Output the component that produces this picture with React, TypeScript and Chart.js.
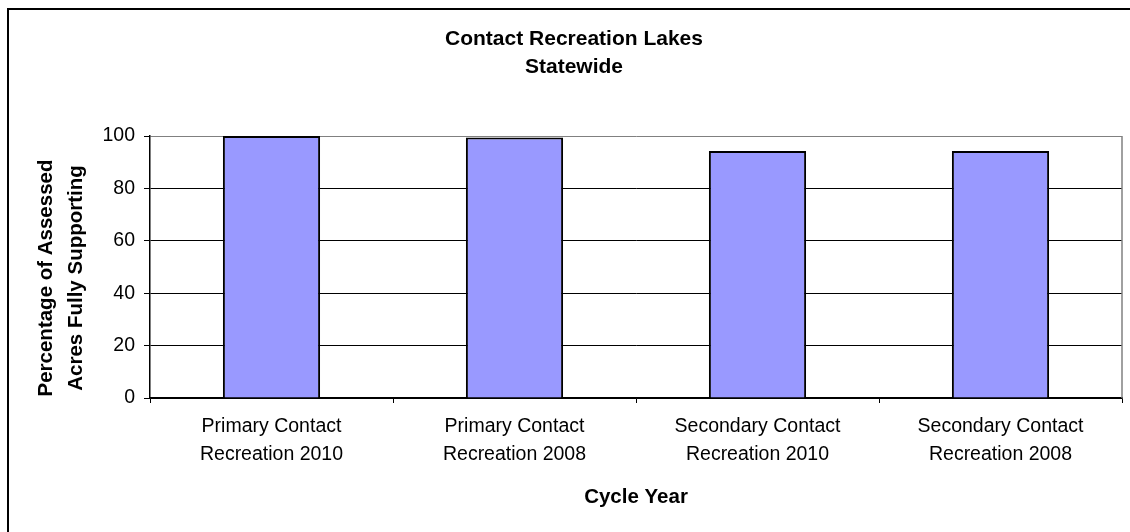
import React, { useEffect, useRef } from "react";
import { Chart, registerables } from "chart.js";

Chart.register(...registerables);

const titleLines = ["Contact Recreation Lakes", "Statewide"];
const categories = [
  ["Primary Contact", "Recreation 2010"],
  ["Primary Contact", "Recreation 2008"],
  ["Secondary Contact", "Recreation 2010"],
  ["Secondary Contact", "Recreation 2008"],
];
const percentSupporting = [100, 99.4, 94.3, 94.3];
const yMin = 0;
const yMax = 100;
const yStep = 20;
const xTitle = "Cycle Year";
const yTitleLines = ["Percentage of Assessed", "Acres Fully Supporting"];

const FONT = "Arial, 'Liberation Sans', Helvetica, sans-serif";

const framePlugin = {
  id: "frame",
  beforeDraw(chart: any) {
    const ctx = chart.ctx;
    ctx.save();
    ctx.fillStyle = "#ffffff";
    ctx.fillRect(0, 0, chart.width, chart.height);
    ctx.strokeStyle = "#000000";
    ctx.lineWidth = 2;
    ctx.beginPath();
    ctx.moveTo(8, chart.height);
    ctx.lineTo(8, 9);
    ctx.lineTo(chart.width, 9);
    ctx.stroke();
    ctx.restore();
  },
  afterDatasetsDraw(chart: any) {
    const { ctx, chartArea } = chart;
    ctx.save();
    ctx.strokeStyle = "#808080";
    ctx.lineWidth = 1.5;
    ctx.beginPath();
    ctx.moveTo(chartArea.right, chartArea.top);
    ctx.lineTo(chartArea.right, chartArea.bottom);
    ctx.stroke();
    ctx.restore();
  },
  afterDraw(chart: any) {
    const { ctx } = chart;
    ctx.save();
    ctx.translate(46.7, 278);
    ctx.rotate(-Math.PI / 2);
    ctx.fillStyle = "#000000";
    ctx.font = `bold 20.5px ${FONT}`;
    ctx.textAlign = "center";
    ctx.textBaseline = "middle";
    yTitleLines.forEach((line, i) => ctx.fillText(line, 0, i * 30));
    ctx.restore();
  },
};

export default function App() {
  const ref = useRef<HTMLCanvasElement | null>(null);

  useEffect(() => {
    if (!ref.current) return;
    const chart = new Chart(ref.current, {
      type: "bar",
      data: {
        labels: categories,
        datasets: [
          {
            data: percentSupporting,
            backgroundColor: "#9999FF",
            borderColor: "#000000",
            borderWidth: 2,
            barPercentage: 0.4,
            categoryPercentage: 1,
          },
        ],
      },
      options: {
        responsive: false,
        animation: false,
        layout: { padding: { left: 26, right: 8, top: 0, bottom: 0 } },
        plugins: {
          legend: { display: false },
          tooltip: { enabled: false },
          title: {
            display: true,
            text: titleLines,
            color: "#000000",
            font: { family: FONT, size: 21, weight: "bold", lineHeight: 28 / 21 },
            padding: { top: 25, bottom: 55 },
          },
        },
        scales: {
          x: {
            grid: {
              display: true,
              drawOnChartArea: false,
              drawTicks: true,
              tickLength: 5,
              color: "#000000",
              offset: true,
            },
            border: { display: true, color: "#000000", width: 1.5 },
            ticks: {
              color: "#000000",
              font: { family: FONT, size: 19.5, lineHeight: 28 / 19.5 },
              padding: 10,
              maxRotation: 0,
              autoSkip: false,
            },
            title: {
              display: true,
              text: xTitle,
              color: "#000000",
              font: { family: FONT, size: 20.5, weight: "bold", lineHeight: 24 / 20.5 },
              padding: { top: 0, bottom: 23 },
            },
            afterFit(scale: any) {
              scale.height = 134;
            },
          },
          y: {
            min: yMin,
            max: yMax,
            ticks: {
              stepSize: yStep,
              color: "#000000",
              font: { family: FONT, size: 19.5 },
              padding: 9,
            },
            grid: {
              color: (c: any) => (c.tick && c.tick.value === yMax ? "#808080" : "#000000"),
              tickColor: "#000000",
              lineWidth: 1,
              tickLength: 6,
            },
            border: { display: true, color: "#000000", width: 1.5 },
            afterFit(scale: any) {
              scale.width = 124;
            },
          },
        },
      },
      plugins: [framePlugin],
    });
    return () => chart.destroy();
  }, []);

  return (
    <div style={{ position: "fixed", left: 0, top: 0, width: 1130, height: 532, background: "#fff" }}>
      <canvas ref={ref} width={1130} height={532} style={{ width: 1130, height: 532, display: "block" }} />
    </div>
  );
}
